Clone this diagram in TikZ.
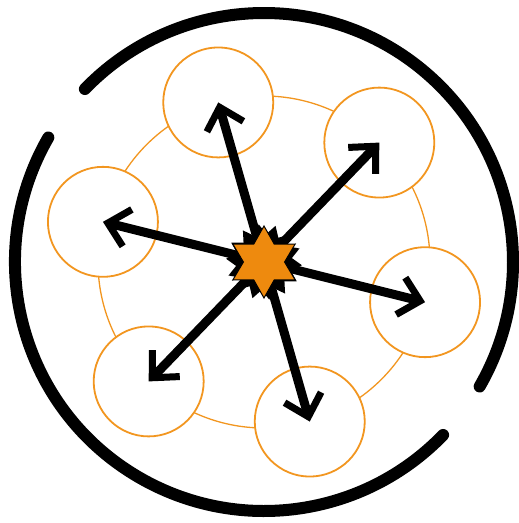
\documentclass[tikz,border=0pt]{standalone}
\usetikzlibrary{shapes.geometric,arrows.meta}
\definecolor{ringorange}{RGB}{242,150,32}
\definecolor{starorange}{RGB}{238,138,14}
\begin{document}
\begin{tikzpicture}[x=1pt,y=1pt,
  unit/.style={circle,draw=ringorange,fill=white,line width=1.8pt,minimum size=110pt,inner sep=0pt},
  push/.style={line width=9pt,-{Straight Barb[length=20pt,width=38pt,line width=7pt]}},
  rim/.style={line width=12pt,line cap=round}]
  \useasboundingbox (-264,-261) rectangle (255,262);
  \draw[ringorange,line width=1.3pt] (0,0) circle[radius=166];
  \node[unit] (u1) at (106:166) {};
  \node[unit] (u2) at (46:166) {};
  \node[unit] (u3) at (-14:166) {};
  \node[unit] (u4) at (-74:166) {};
  \node[unit] (u5) at (-134:166) {};
  \node[unit] (u6) at (166:166) {};
  \coordinate (mid) at (0,0);
  \draw[push] (mid) -- (u1.center);
  \draw[push] (mid) -- (u2.center);
  \draw[push] (mid) -- (u3.center);
  \draw[push] (mid) -- (u4.center);
  \draw[push] (mid) -- (u5.center);
  \draw[push] (mid) -- (u6.center);
  \node[star,star points=14,star point ratio=1.35,minimum size=76pt,inner sep=0pt,fill=black,rotate=8] (burst) at (mid) {};
  \node[star,star points=6,star point ratio=1.75,minimum size=72pt,inner sep=0pt,fill=starorange,draw=black,line width=1pt] (hub) at (mid) {};
  \draw[rim] (136:249) arc[start angle=136,end angle=-30,radius=249];
  \draw[rim] (150:249) arc[start angle=150,end angle=316,radius=249];
\end{tikzpicture}
\end{document}
